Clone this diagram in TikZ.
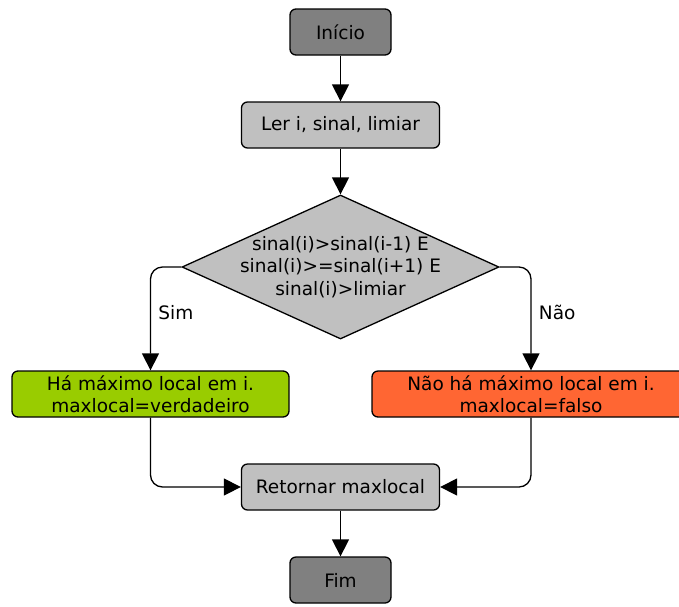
\documentclass[tikz,border=0pt]{standalone}
\usepackage{fontspec}
\setmainfont{DejaVu Sans}
\usetikzlibrary{shapes.geometric,arrows.meta}

\definecolor{termgray}{HTML}{808080}
\definecolor{stepgray}{HTML}{C0C0C0}
\definecolor{simgreen}{HTML}{99CC00}
\definecolor{naored}{HTML}{FF6633}

\begin{document}
\begin{tikzpicture}[x=1pt,y=-1pt,
    line width=1.3pt,
    >={Triangle[length=17pt,width=17pt]},
    every node/.style={font=\fontsize{18.5}{22.5}\selectfont, align=center},
    term/.style={draw, rounded corners=6pt, fill=termgray,
        minimum width=101pt, minimum height=46pt},
    stepbox/.style={draw, rounded corners=6pt, fill=stepgray,
        minimum width=198pt, minimum height=46pt},
    result/.style={draw, rounded corners=6pt,
        minimum height=46pt, inner sep=0pt}]
    \useasboundingbox (0,0) rectangle (679,606);

    \node[term] (inicio) at (340.5,32) {Início};
    \node[stepbox] (ler) at (340.5,125) {Ler i, sinal, limiar};
    \node[diamond, draw, fill=stepgray, shape aspect=2.2, inner sep=-12pt,
        minimum width=317pt, minimum height=144pt] (teste) at (340.5,267)
        {sinal(i)>sinal(i-1) E\\sinal(i)>=sinal(i+1) E\\sinal(i)>limiar};
    \node[result, fill=simgreen, minimum width=277pt] (sim) at (150.5,394)
        {Há máximo local em i.\\maxlocal=verdadeiro};
    \node[result, fill=naored, minimum width=318pt] (nao) at (531,394)
        {Não há máximo local em i.\\maxlocal=falso};
    \node[stepbox] (ret) at (340.5,487) {Retornar maxlocal};
    \node[term] (fim) at (340.5,580) {Fim};

    \draw[->] (inicio) -- (ler);
    \draw[->] (ler) -- (teste);
    \draw[->, rounded corners=12pt] (teste.west) -| node[pos=0.72, right=4pt] {Sim} (sim.north);
    \draw[->, rounded corners=12pt] (teste.east) -| node[pos=0.72, right=4pt] {Não} (nao.north);
    \draw[->, rounded corners=12pt] (sim.south) |- (ret.west);
    \draw[->, rounded corners=12pt] (nao.south) |- (ret.east);
    \draw[->] (ret) -- (fim);
\end{tikzpicture}
\end{document}
